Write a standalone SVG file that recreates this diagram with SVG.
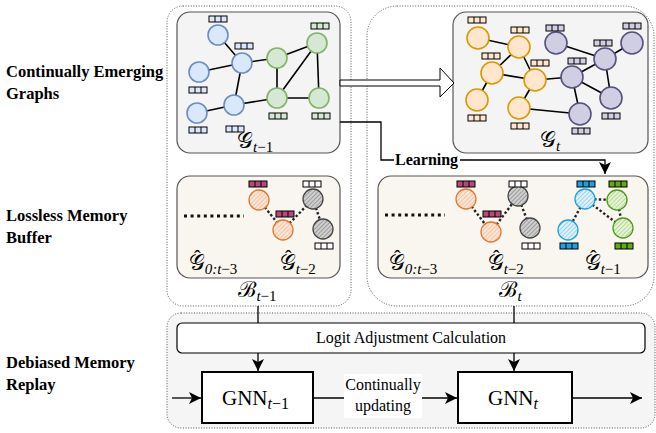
<svg xmlns="http://www.w3.org/2000/svg" xmlns:xlink="http://www.w3.org/1999/xlink" width="656" height="433" viewBox="0 0 656 433">
<style>
.lbl{font-family:"Liberation Serif",serif;font-weight:bold;font-size:16.5px;fill:#000}
.txt{font-family:"Liberation Serif",serif;font-size:16px;fill:#000}
.math{font-family:"Liberation Serif","DejaVu Serif","Noto Sans",serif;font-size:22px;font-weight:normal;fill:#000}
.hat{font-family:"Liberation Serif",serif;font-size:20px}
.sub{font-style:italic;font-size:15px}
.subn{font-size:15px}
.gnn{font-family:"Liberation Serif",serif;font-size:21px;fill:#000}
.gsub{font-style:italic;font-size:16px}
.gsubn{font-size:16px}
.dot{fill:none;stroke:#555;stroke-width:1;stroke-dasharray:1 1.6}
.panel{fill:#f4f4f4;stroke:#555;stroke-width:1.2}
.cream{fill:#f8f6ee;stroke:#555;stroke-width:1.2}
.e{stroke:#000;stroke-width:1.6;fill:none}
.de{stroke:#222;stroke-width:2.4;stroke-dasharray:2.4 2.2;fill:none}
.blue{fill:#dae8fc;stroke:#6c8ebf;stroke-width:1.6}
.green{fill:#d5e8d4;stroke:#82b366;stroke-width:1.6}
.orange{fill:#ffe6cc;stroke:#d79b00;stroke-width:1.6}
.purple{fill:#d0cee2;stroke:#56517e;stroke-width:1.6}
.ho{fill:url(#hatchO);stroke:#e07830;stroke-width:1.3}
.hg{fill:url(#hatchG);stroke:#444;stroke-width:1.3}
.hb{fill:url(#hatchB);stroke:#1ba1e2;stroke-width:1.3}
.hgr{fill:url(#hatchGr);stroke:#4d9a1a;stroke-width:1.3}
.conn{stroke:#000;stroke-width:1.3;fill:none}
.box{fill:#fff;stroke:#000;stroke-width:2}
</style>
<defs>
<g id="fb"><rect x="0" y="0" width="18" height="6" stroke="#000" stroke-width="1"/><path d="M6,0v6M12,0v6" stroke="#000" stroke-width="1"/></g>
<pattern id="hatchO" width="3" height="3" patternUnits="userSpaceOnUse" patternTransform="rotate(45)"><rect width="3" height="3" fill="#fde6d6"/><path d="M0,0v3" stroke="#f2a070" stroke-width="1"/></pattern>
<pattern id="hatchG" width="3" height="3" patternUnits="userSpaceOnUse" patternTransform="rotate(45)"><rect width="3" height="3" fill="#cfcfcf"/><path d="M0,0v3" stroke="#6a6a6a" stroke-width="1"/></pattern>
<pattern id="hatchB" width="3" height="3" patternUnits="userSpaceOnUse" patternTransform="rotate(45)"><rect width="3" height="3" fill="#dff1fb"/><path d="M0,0v3" stroke="#4fb6ea" stroke-width="1"/></pattern>
<pattern id="hatchGr" width="3" height="3" patternUnits="userSpaceOnUse" patternTransform="rotate(45)"><rect width="3" height="3" fill="#e6f3d8"/><path d="M0,0v3" stroke="#86c24e" stroke-width="1"/></pattern>
<marker id="arr" markerUnits="userSpaceOnUse" markerWidth="13" markerHeight="12" refX="12" refY="6" orient="auto" viewBox="0 0 13 12"><path d="M0,0 L12,6 L0,12 L3,6 Z" fill="#000"/></marker>
</defs>

<!-- row labels -->
<g id="row-labels">
<text class="lbl" x="6" y="77">Continually Emerging</text>
<text class="lbl" x="6" y="99">Graphs</text>
<text class="lbl" x="6" y="221">Lossless Memory</text>
<text class="lbl" x="6" y="243">Buffer</text>
<text class="lbl" x="6" y="368">Debiased Memory</text>
<text class="lbl" x="6" y="390">Replay</text>
</g>

<!-- outer dotted containers -->
<g id="container-left"><rect class="dot" x="167" y="6" width="184" height="300" rx="16"/></g>
<g id="container-right"><rect class="dot" x="367" y="6" width="287" height="300" rx="30"/></g>
<g id="container-bottom"><rect class="dot" x="167" y="313" width="488" height="115" rx="14" style="fill:#f5f5f5"/></g>

<!-- graph panels -->
<g id="panel-left"><rect class="panel" x="177" y="12" width="163" height="141" rx="13"/></g>
<g id="panel-right"><rect class="panel" x="453" y="12" width="195" height="141" rx="13"/></g>
<g id="buffer-left"><rect class="cream" x="177" y="176" width="163" height="102" rx="13"/></g>
<g id="buffer-right"><rect class="cream" x="378" y="176" width="270" height="102" rx="13"/></g>

<!-- left graph -->
<g id="graph-left">
<path class="e" d="M218,35L242,63M199,72L242,63M242,63L234,105M197,113L234,105M242,63L277,58M277,58L317,43M277,58L277,98M277,98L317,43M317,43L319,98M277,98L319,98M234,105L277,98"/>
<circle class="blue" cx="218" cy="35" r="10"/>
<circle class="blue" cx="242" cy="63" r="10"/>
<circle class="blue" cx="199" cy="72" r="10"/>
<circle class="blue" cx="197" cy="113" r="10"/>
<circle class="blue" cx="234" cy="105" r="10"/>
<circle class="green" cx="277" cy="58" r="10"/>
<circle class="green" cx="317" cy="43" r="10"/>
<circle class="green" cx="277" cy="98" r="10"/>
<circle class="green" cx="319" cy="98" r="10"/>
<use href="#fb" x="209" y="16" fill="#dae8fc"/>
<use href="#fb" x="235" y="43" fill="#dae8fc"/>
<use href="#fb" x="189" y="87" fill="#dae8fc"/>
<use href="#fb" x="189" y="127" fill="#dae8fc"/>
<use href="#fb" x="226" y="126" fill="#dae8fc"/>
<use href="#fb" x="311" y="23" fill="#d5e8d4"/>
<use href="#fb" x="269" y="113" fill="#d5e8d4"/>
<use href="#fb" x="312" y="113" fill="#d5e8d4"/>
<text class="math" x="237" y="148">𝒢<tspan class="sub" dy="4">t</tspan><tspan class="subn">−1</tspan></text>
</g>

<!-- right graph -->
<g id="graph-right">
<path class="e" d="M478,38L519,47M519,47L492,73M519,47L535,80M492,73L535,80M492,73L477,100M535,80L519,108M535,80L572,77M519,108L580,114M556,43L605,59M605,59L632,43M605,59L572,77M572,77L611,98M572,77L580,114M605,59L611,98"/>
<circle class="orange" cx="478" cy="38" r="11"/>
<circle class="orange" cx="519" cy="47" r="11"/>
<circle class="orange" cx="492" cy="73" r="11"/>
<circle class="orange" cx="535" cy="80" r="11"/>
<circle class="orange" cx="477" cy="100" r="11"/>
<circle class="orange" cx="519" cy="108" r="11"/>
<circle class="purple" cx="556" cy="43" r="11"/>
<circle class="purple" cx="605" cy="59" r="11"/>
<circle class="purple" cx="632" cy="43" r="11"/>
<circle class="purple" cx="572" cy="77" r="11"/>
<circle class="purple" cx="611" cy="98" r="11"/>
<circle class="purple" cx="580" cy="114" r="11"/>
<use href="#fb" x="468" y="17" fill="#ffe6cc"/>
<use href="#fb" x="511" y="27" fill="#ffe6cc"/>
<use href="#fb" x="482" y="53" fill="#ffe6cc"/>
<use href="#fb" x="531" y="60" fill="#ffe6cc"/>
<use href="#fb" x="468" y="115" fill="#ffe6cc"/>
<use href="#fb" x="511" y="123" fill="#ffe6cc"/>
<use href="#fb" x="546" y="25" fill="#d0cee2"/>
<use href="#fb" x="594" y="40" fill="#d0cee2"/>
<use href="#fb" x="623" y="23" fill="#d0cee2"/>
<use href="#fb" x="568" y="58" fill="#d0cee2"/>
<use href="#fb" x="602" y="113" fill="#d0cee2"/>
<use href="#fb" x="572" y="128" fill="#d0cee2"/>
<text class="math" x="540" y="147">𝒢<tspan class="sub" dy="4">t</tspan></text>
</g>

<!-- left memory buffer -->
<g id="memory-left">
<path d="M184,216H244" stroke="#111" stroke-width="3" stroke-dasharray="3 3.6"/>
<path class="de" d="M259,200L283,230M283,230L313,199M313,199L323,229"/>
<circle class="ho" cx="259" cy="200" r="10"/>
<circle class="ho" cx="283" cy="230" r="10"/>
<circle class="hg" cx="313" cy="199" r="10"/>
<circle class="hg" cx="323" cy="229" r="10"/>
<use href="#fb" x="249" y="181" fill="#b8477a"/>
<use href="#fb" x="276" y="211" fill="#b8477a"/>
<use href="#fb" x="303" y="181" fill="#fff"/>
<use href="#fb" x="315" y="243" fill="#fff"/>
<text class="math" x="189" y="270">𝒢<tspan class="hat" dx="-11" dy="-5">ˆ</tspan><tspan class="sub" dx="4" dy="9">0:t</tspan><tspan class="subn">−3</tspan></text>
<text class="math" x="280" y="270">𝒢<tspan class="hat" dx="-11" dy="-5">ˆ</tspan><tspan class="sub" dx="4" dy="9">t</tspan><tspan class="subn">−2</tspan></text>
</g>

<!-- right memory buffer -->
<g id="memory-right">
<path d="M385,215H445" stroke="#111" stroke-width="3" stroke-dasharray="3 3.6"/>
<path class="de" d="M466,199L491,232M491,232L518,196M518,196L530,228M585,199L568,230M585,199L617,200M585,199L623,228M617,200L623,228"/>
<circle class="ho" cx="466" cy="199" r="10"/>
<circle class="ho" cx="491" cy="232" r="10"/>
<circle class="hg" cx="518" cy="196" r="10"/>
<circle class="hg" cx="530" cy="228" r="10"/>
<circle class="hb" cx="585" cy="199" r="10"/>
<circle class="hb" cx="568" cy="230" r="10"/>
<circle class="hgr" cx="617" cy="200" r="10"/>
<circle class="hgr" cx="623" cy="228" r="10"/>
<use href="#fb" x="457" y="181" fill="#b8477a"/>
<use href="#fb" x="483" y="211" fill="#b8477a"/>
<use href="#fb" x="509" y="181" fill="#fff"/>
<use href="#fb" x="522" y="243" fill="#fff"/>
<use href="#fb" x="577" y="181" fill="#1ba1e2"/>
<use href="#fb" x="560" y="243" fill="#1ba1e2"/>
<use href="#fb" x="609" y="181" fill="#60a917"/>
<use href="#fb" x="615" y="243" fill="#60a917"/>
<text class="math" x="389" y="270">𝒢<tspan class="hat" dx="-11" dy="-5">ˆ</tspan><tspan class="sub" dx="4" dy="9">0:t</tspan><tspan class="subn">−3</tspan></text>
<text class="math" x="488" y="270">𝒢<tspan class="hat" dx="-11" dy="-5">ˆ</tspan><tspan class="sub" dx="4" dy="9">t</tspan><tspan class="subn">−2</tspan></text>
<text class="math" x="585" y="270">𝒢<tspan class="hat" dx="-11" dy="-5">ˆ</tspan><tspan class="sub" dx="4" dy="9">t</tspan><tspan class="subn">−1</tspan></text>
</g>

<!-- buffer labels -->
<g id="label-B-left"><text class="math" x="238" y="297">ℬ<tspan class="sub" dy="4">t</tspan><tspan class="subn">−1</tspan></text></g>
<g id="label-B-right"><text class="math" x="499" y="297">ℬ<tspan class="sub" dy="4">t</tspan></text></g>

<!-- replay nodes -->
<g id="logit"><rect x="177" y="323" width="468" height="30" rx="5" fill="#fff" stroke="#000" stroke-width="1.2"/><text class="txt" x="411" y="343" text-anchor="middle">Logit Adjustment Calculation</text></g>
<g id="gnn-prev"><rect class="box" x="202" y="372" width="111" height="51"/><text class="gnn" x="222" y="405">GNN<tspan class="gsub" dy="4">t</tspan><tspan class="gsubn">−1</tspan></text></g>
<g id="gnn-cur"><rect class="box" x="458" y="372" width="114" height="51"/><text class="gnn" x="488" y="405">GNN<tspan class="gsub" dy="4">t</tspan></text></g>

<!-- connectors -->
<g id="connectors">
<polygon points="340,80 440,80 440,68 454,83 440,97 440,86 340,86" fill="#fff" stroke="#000" stroke-width="1"/>
<path class="conn" d="M340,122H381V160H394"/>
<path class="conn" d="M460,160H605V174" marker-end="url(#arr)"/>
<text class="lbl" x="395" y="165" style="font-size:16px">Learning</text>
<path class="conn" d="M258,306V323"/>
<path class="conn" d="M514,306V323"/>
<path class="conn" d="M258,353V371" marker-end="url(#arr)"/>
<path class="conn" d="M514,353V371" marker-end="url(#arr)"/>
<path class="conn" d="M172,398H201" marker-end="url(#arr)"/>
<path class="conn" d="M313,398H457" marker-end="url(#arr)"/>
<path class="conn" d="M572,398H642" marker-end="url(#arr)"/>
<rect x="344" y="374" width="78" height="44" fill="#fff"/>
<text class="txt" x="383" y="390" text-anchor="middle">Continually</text>
<text class="txt" x="383" y="411" text-anchor="middle">updating</text>
</g>
</svg>
